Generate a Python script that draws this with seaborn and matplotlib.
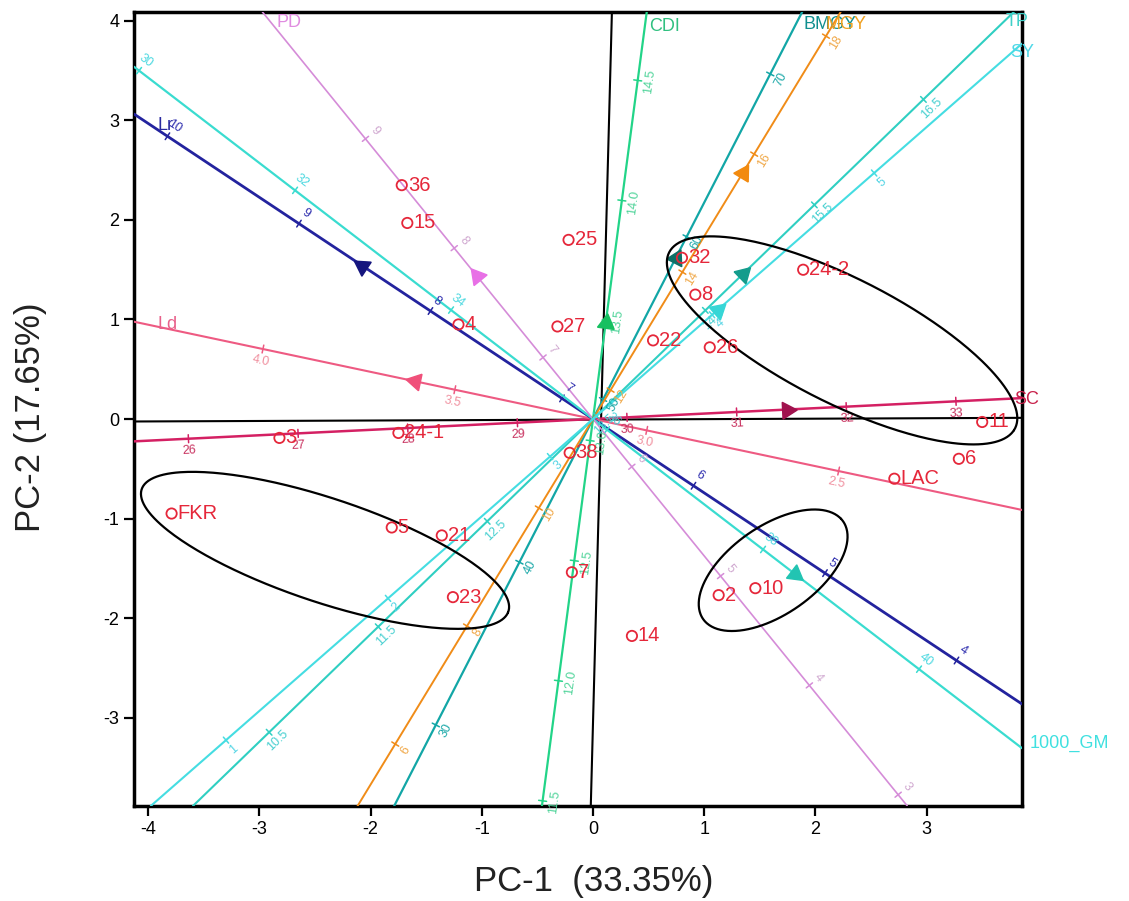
import numpy as np
import matplotlib
matplotlib.use("Agg")
import matplotlib.pyplot as plt
import seaborn as sns

# ---------------- genotype scores ----------------
genotypes = ["36", "15", "25", "27", "4", "32", "8", "22", "26", "24-2", "11", "6",
             "LAC", "38", "3", "24-1", "FKR", "5", "21", "23", "7", "14", "2", "10"]
pc1 = [-1.72, -1.67, -0.22, -0.32, -1.21, 0.80, 0.92, 0.54, 1.05, 1.89, 3.50, 3.29,
       2.71, -0.21, -2.82, -1.75, -3.79, -1.81, -1.36, -1.26, -0.19, 0.35, 1.13, 1.46]
pc2 = [2.35, 1.97, 1.80, 0.93, 0.95, 1.62, 1.25, 0.79, 0.72, 1.50, -0.03, -0.40,
       -0.60, -0.34, -0.19, -0.14, -0.95, -1.09, -1.17, -1.79, -1.54, -2.18, -1.77, -1.70]

# ---------------- trait vectors ----------------
traits = ["SC", "Ld", "Lr", "1000_GM", "PD", "CDI", "BMGY", "MGY", "TP", "SY"]
trait_pc1 = [1.745, -1.600, -2.077, 1.817, -1.043, 0.114, 0.744, 1.346, 1.349, 1.124]
trait_pc2 = [0.095, 0.379, 1.542, -1.558, 1.435, 0.965, 1.618, 2.472, 1.458, 1.099]
# calibration of each biplot axis: value at the origin and length per unit
trait_mean = [29.69, 3.14, 6.764, 35.82, 6.437, 13.09, 48.8, 11.51, 13.47, 3.265]
trait_unit = [0.9875, 3.547, 1.473, 0.924, 1.358, 2.43, 0.180, 0.675, 1.444, 2.038]
trait_ticks = [
    [26, 27, 28, 29, 30, 31, 32, 33],
    [4.0, 3.5, 3.0, 2.5],
    [10, 9, 8, 7, 6, 5, 4],
    [30, 32, 34, 36, 38, 40],
    [9, 8, 7, 6, 5, 4, 3],
    [14.5, 14.0, 13.5, 13.0, 12.5, 12.0, 11.5],
    [70, 60, 50, 40, 30],
    [18, 16, 14, 12, 10, 8, 6],
    [16.5, 15.5, 14.5, 13.5, 12.5, 11.5, 10.5, 9.5],
    [5, 4, 3, 2, 1],
]
tick_fmt = ["{:.0f}", "{:.1f}", "{:.0f}", "{:.0f}", "{:.0f}", "{:.1f}", "{:.0f}", "{:.0f}", "{:.1f}", "{:.0f}"]
tick_side = [-1, 1, -1, 1, -1, -1, -1, -1, -1, -1]

line_col = ["#D42063", "#EE5A82", "#23239E", "#3ADCD0", "#D58CD8", "#22D488",
            "#12A6A6", "#F08C18", "#2FCFC2", "#45DDE2"]
line_w = [1.8, 1.5, 2.0, 1.6, 1.2, 1.6, 1.6, 1.4, 1.5, 1.5]
tri_col = ["#A0124E", "#F0507A", "#15157E", "#22C4B2", "#E870E6", "#16C060",
           "#0F6F66", "#F28A0E", "#149C8C", "#36D6D6"]
ticklab_col = ["#C8305E", "#F0909F", "#2D2DAE", "#4BD8E0", "#D0A8D0", "#50D49A",
               "#1AA8A8", "#F0A848", "#45CFD0", "#55D5E5"]
name_col = ["#C8204A", "#E8608A", "#2A2AA0", "#40E0E0", "#E08CE0", "#30C080",
            "#108F8F", "#F0A020", "#40D0C8", "#50D8E8"]
name_off = [(5, -1), (23, -3), (23, -11), (8, 5), (14, -11), (2, -15),
            (1, -13), (-15, -13), (3, -10), (0, -9)]
name_ha = ["center", "left", "left", "left", "left", "left", "left", "left", "center", "center"]

# ---------------- grouping ellipses (center, width, height, angle) ----------------
ell_cx = [2.24, -2.41, 1.62]
ell_cy = [0.79, -1.32, -1.52]
ell_w = [3.58, 3.52, 1.60]
ell_h = [1.22, 1.03, 0.85]
ell_ang = [-30.3, -20.8, 40.3]

red = "#E5273A"

sns.set_theme(style="ticks")
plt.rcParams["font.family"] = ["Liberation Sans", "DejaVu Sans"]
plt.rcParams["axes.unicode_minus"] = False

W, H = 1129, 901
fig = plt.figure(figsize=(W / 100, H / 100), dpi=100)
ax = fig.add_axes([134 / W, 95 / H, 888 / W, 794 / H])
xmin, xmax = -4.128, 3.858
ymin, ymax = -3.889, 4.090
ax.set_xlim(xmin, xmax)
ax.set_ylim(ymin, ymax)
sx = 888 / (xmax - xmin)
sy = 794 / (ymax - ymin)

# reference axes
ax.axline((0.0, -0.006), slope=0.0046, color="black", lw=1.5, zorder=2)
ax.axline((0.0726, 0.0), slope=42.0, color="black", lw=1.5, zorder=2)

for i, name in enumerate(traits):
    vx, vy = trait_pc1[i], trait_pc2[i]
    ln = np.hypot(vx, vy)
    ux, uy = vx / ln, vy / ln
    dx, dy = ux * sx, uy * sy
    dn = np.hypot(dx, dy)
    dx, dy = dx / dn, dy / dn
    ang = np.degrees(np.arctan2(dy, dx))
    rot = ang
    if rot > 90:
        rot -= 180
    elif rot <= -90:
        rot += 180
    nx, ny = -dy, dx  # ccw normal in display space
    c = line_col[i]
    ax.axline((0, 0), (vx, vy), color=c, lw=line_w[i], zorder=3)

    # calibrated tick marks
    for v in trait_ticks[i]:
        s = (v - trait_mean[i]) * trait_unit[i]
        px, py = s * ux, s * uy
        hx, hy = 4 * nx / sx, 4 * ny / sy
        ax.plot([px - hx, px + hx], [py - hy, py + hy], color=c, lw=1.1, zorder=3)
        side = tick_side[i]
        ax.annotate(tick_fmt[i].format(v), xy=(px, py),
                    xytext=(side * 12 * nx, side * 12 * ny), textcoords="offset pixels",
                    rotation=rot, rotation_mode="anchor", ha="center", va="center",
                    fontsize=9, color=ticklab_col[i], zorder=4)

    # direction arrowhead
    ax.plot([vx], [vy], marker=(3, 0, ang - 90), ms=14, color=tri_col[i],
            ls="none", zorder=5)

    # name at the border where the axis leaves the plot
    ts = []
    ts.append(xmax / ux if ux > 0 else xmin / ux)
    ts.append(ymax / uy if uy > 0 else ymin / uy)
    t = min(ts)
    ex, ey = t * ux, t * uy
    ax.annotate(name, xy=(ex, ey), xytext=name_off[i], textcoords="offset pixels",
                ha=name_ha[i], va="center", fontsize=13, color=name_col[i],
                annotation_clip=False, zorder=6)

# ellipses
tt = np.linspace(0, 2 * np.pi, 300)
for cx, cy, w, h, a in zip(ell_cx, ell_cy, ell_w, ell_h, ell_ang):
    ar = np.radians(a)
    ex = cx + (w / 2) * np.cos(tt) * np.cos(ar) - (h / 2) * np.sin(tt) * np.sin(ar)
    ey = cy + (w / 2) * np.cos(tt) * np.sin(ar) + (h / 2) * np.sin(tt) * np.cos(ar)
    ax.plot(ex, ey, color="black", lw=1.6, zorder=6)

# genotypes
sns.scatterplot(x=pc1, y=pc2, ax=ax, s=55, facecolors="none", edgecolor=red,
                linewidth=1.3, zorder=7, legend=False)
for g, x, y in zip(genotypes, pc1, pc2):
    ax.annotate(g, xy=(x, y), xytext=(6, 0), textcoords="offset pixels",
                ha="left", va="center", fontsize=14.5, color=red, zorder=8)

# frame and axes text
for sp in ax.spines.values():
    sp.set_linewidth(2.5)
    sp.set_color("black")
    sp.set_visible(True)
ax.set_xticks([-4, -3, -2, -1, 0, 1, 2, 3])
ax.set_yticks([-3, -2, -1, 0, 1, 2, 3, 4])
ax.tick_params(direction="out", length=7, width=1.6, labelsize=13, colors="black")
ax.set_xlabel("PC-1  (33.35%)", fontsize=25, color="#222222")
ax.set_ylabel("PC-2 (17.65%)", fontsize=25, color="#222222")
ax.xaxis.label.set_va("center")
ax.yaxis.label.set_va("center")
ax.yaxis.label.set_ha("center")
ax.xaxis.set_label_coords(0.518, -0.0957)
ax.yaxis.set_label_coords(-0.117, 0.489)

fig.savefig("out.png", dpi=100)
